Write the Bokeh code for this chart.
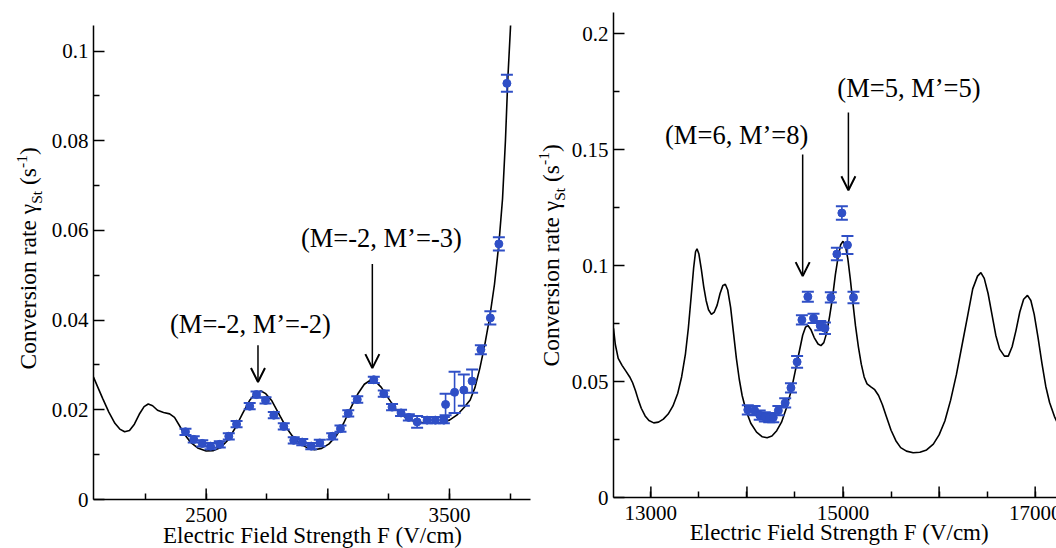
import math
from bokeh.plotting import figure
from bokeh.models import FixedTicker, Label, Arrow, OpenHead, Range1d
from bokeh.layouts import row, column
from bokeh.embed import file_html
from bokeh.resources import INLINE

# ---------------- data: left panel ----------------
left_curve_x = [2037, 2055, 2075, 2100, 2125, 2145, 2165, 2185, 2205, 2225, 2245, 2262, 2280, 2300,
                2325, 2350, 2370, 2390, 2410, 2435, 2465, 2500, 2530, 2560, 2590, 2620, 2650, 2680,
                2705, 2725, 2745, 2770, 2800, 2830, 2860, 2890, 2920, 2945, 2975, 3005, 3035, 3065,
                3095, 3125, 3150, 3175, 3195, 3220, 3250, 3280, 3310, 3340, 3380, 3420, 3460, 3500,
                3530, 3560, 3585, 3605, 3625, 3645, 3665, 3685, 3703, 3718, 3730, 3740, 3750, 3760]
left_curve_y = [0.0273, 0.0250, 0.0225, 0.0195, 0.0170, 0.0157, 0.0151, 0.0154, 0.0168, 0.0190, 0.0207,
                0.0213, 0.0209, 0.0199, 0.0194, 0.0191, 0.0183, 0.0165, 0.0146, 0.0128, 0.0115, 0.0108,
                0.0109, 0.0116, 0.0133, 0.0160, 0.0192, 0.0222, 0.0238, 0.0242, 0.0236, 0.0220, 0.0190,
                0.0160, 0.0137, 0.0123, 0.0114, 0.0111, 0.0114, 0.0124, 0.0142, 0.0170, 0.0205, 0.0237,
                0.0257, 0.0266, 0.0264, 0.0250, 0.0225, 0.0201, 0.0186, 0.0177, 0.0172, 0.0170, 0.0171,
                0.0177, 0.0188, 0.0205, 0.0222, 0.0250, 0.0293, 0.0345, 0.0405, 0.0480, 0.0570, 0.0670,
                0.0800, 0.0940, 0.1045, 0.1160]

left_data_x = [2415, 2449, 2484, 2518, 2556, 2593, 2625, 2679, 2707, 2744, 2778, 2819, 2860, 2895,
               2932, 2967, 3018, 3052, 3084, 3121, 3189, 3230, 3264, 3301, 3333, 3367, 3408, 3442,
               3477, 3484, 3521, 3559, 3593, 3629, 3668, 3703, 3736]
left_data_y = [0.0151, 0.0134, 0.0125, 0.0119, 0.0123, 0.0141, 0.0168, 0.0208, 0.0234, 0.0221, 0.0188,
               0.0163, 0.0132, 0.0128, 0.0119, 0.0126, 0.0141, 0.0158, 0.0192, 0.0223, 0.0267, 0.0236,
               0.0206, 0.0193, 0.0183, 0.0173, 0.0177, 0.0177, 0.0177, 0.0212, 0.0239, 0.0244, 0.0264,
               0.0334, 0.0405, 0.0570, 0.0928]
left_data_err = [0.0007] * 25 + [0.0013, 0.0007, 0.0007, 0.0007, 0.0024, 0.0046, 0.0035, 0.0026,
                                 0.0010, 0.0015, 0.0015, 0.0019]

left_xticks = [2500, 3000, 3500]
left_xminor = [2250, 2500, 2750, 3000, 3250, 3500, 3750]
left_xlabels = {2500: "2500", 3000: "", 3500: "3500"}
left_yticks = [0, 0.02, 0.04, 0.06, 0.08, 0.1]
left_yminor = [0.01, 0.03, 0.05, 0.07, 0.09]
left_ylabels = {0: "0", 0.02: "0.02", 0.04: "0.04", 0.06: "0.06", 0.08: "0.08", 0.1: "0.1"}

# ---------------- data: right panel ----------------
right_curve_x = [12611, 12630, 12660, 12700, 12740, 12780, 12810, 12840, 12870, 12900, 12940, 12980,
                 13030, 13080, 13130, 13180, 13230, 13280, 13320, 13360, 13390, 13420, 13445, 13465,
                 13480, 13500, 13525, 13550, 13575, 13600, 13630, 13660, 13690, 13720, 13750, 13775,
                 13800, 13830, 13860, 13890, 13920, 13950, 13990, 14040, 14100, 14160, 14210, 14260,
                 14310, 14360, 14410, 14460, 14500, 14540, 14580, 14610, 14635, 14665, 14700, 14740,
                 14770, 14800, 14830, 14860, 14890, 14920, 14950, 14975, 15000, 15025, 15050, 15075,
                 15100, 15130, 15160, 15190, 15220, 15250, 15290, 15330, 15370, 15410, 15450, 15500,
                 15550, 15600, 15660, 15730, 15800, 15870, 15940, 16000, 16060, 16120, 16180, 16240,
                 16300, 16350, 16400, 16435, 16470, 16510, 16550, 16590, 16630, 16680, 16720, 16760,
                 16800, 16840, 16880, 16920, 16955, 16990, 17030, 17070, 17110, 17150, 17200, 17240]
right_curve_y = [0.0730, 0.0660, 0.0600, 0.0570, 0.0545, 0.0520, 0.0495, 0.0460, 0.0420, 0.0385, 0.0352,
                 0.0332, 0.0322, 0.0325, 0.0338, 0.0360, 0.0395, 0.0450, 0.0520, 0.0620, 0.0730, 0.0870,
                 0.0990, 0.1060, 0.1073, 0.1050, 0.0985, 0.0910, 0.0850, 0.0810, 0.0790, 0.0800, 0.0830,
                 0.0880, 0.0915, 0.0920, 0.0895, 0.0820, 0.0710, 0.0600, 0.0510, 0.0440, 0.0375, 0.0320,
                 0.0282, 0.0262, 0.0258, 0.0265, 0.0288, 0.0325, 0.0385, 0.0460, 0.0540, 0.0620, 0.0700,
                 0.0735, 0.0742, 0.0725, 0.0690, 0.0662, 0.0655, 0.0668, 0.0710, 0.0780, 0.0860, 0.0960,
                 0.1040, 0.1090, 0.1105, 0.1085, 0.1030, 0.0945, 0.0850, 0.0740, 0.0650, 0.0575, 0.0520,
                 0.0490, 0.0477, 0.0465, 0.0440, 0.0400, 0.0350, 0.0290, 0.0245, 0.0215, 0.0200, 0.0193,
                 0.0195, 0.0205, 0.0230, 0.0270, 0.0330, 0.0420, 0.0530, 0.0660, 0.0790, 0.0900, 0.0955,
                 0.0970, 0.0945, 0.0880, 0.0790, 0.0700, 0.0640, 0.0610, 0.0610, 0.0650, 0.0720, 0.0800,
                 0.0855, 0.0872, 0.0850, 0.0790, 0.0690, 0.0580, 0.0480, 0.0410, 0.0350, 0.0315]

right_data_x = [14009, 14080, 14133, 14186, 14232, 14274, 14327, 14398, 14458, 14522, 14572, 14634,
                14693, 14763, 14812, 14873, 14936, 14988, 15046, 15109]
right_data_y = [0.0378, 0.0375, 0.0355, 0.0348, 0.0345, 0.0345, 0.0375, 0.0408, 0.0473, 0.0585, 0.0766,
                0.0866, 0.0773, 0.0741, 0.0730, 0.0863, 0.1050, 0.1227, 0.1089, 0.0863]
right_data_err = [0.0020, 0.0020, 0.0020, 0.0020, 0.0020, 0.0020, 0.0020, 0.0020, 0.0020, 0.0025, 0.0020,
                  0.0022, 0.0020, 0.0020, 0.0025, 0.0022, 0.0027, 0.0029, 0.0039, 0.0025]

right_xticks = [13000, 14000, 15000, 16000, 17000]
right_xminor = [12500, 13000, 13500, 14000, 14500, 15000, 15500, 16000, 16500, 17000]
right_xlabels = {13000: "13000", 14000: "", 15000: "15000", 16000: "", 17000: "17000"}
right_yticks = [0, 0.05, 0.1, 0.15, 0.2]
right_yminor = [0.025, 0.075, 0.125, 0.175]
right_ylabels = {0: "0", 0.05: "0.05", 0.1: "0.1", 0.15: "0.15", 0.2: "0.2"}

X_TITLE = "Electric Field Strength F (V/cm)"
Y_TITLE_PARTS = ["Conversion rate γ", "St", "(s", "-1", ")"]

FONT = "Liberation Serif"
BLUE = "#2f4fc6"
H = 548


def blank(width, height, xr, yr, bl=0, br=0):
    s = figure(width=width, height=height, x_range=xr, y_range=yr,
               output_backend="svg", toolbar_location=None, tools="",
               x_axis_type=None, y_axis_type=None,
               min_border_left=bl, min_border_right=br, min_border_top=0, min_border_bottom=0)
    s.outline_line_color = None
    s.xgrid.visible = False
    s.ygrid.visible = False
    return s


def base_fig(width, height, xr, yr, borders, xticks, xminor, yticks, yminor, ylabels):
    l, r, t, b = borders
    p = figure(width=width, height=height, x_range=Range1d(*xr), y_range=Range1d(*yr),
               output_backend="svg", toolbar_location=None, tools="",
               min_border_left=l, min_border_right=r, min_border_top=t, min_border_bottom=b)
    p.outline_line_color = None
    p.xgrid.visible = False
    p.ygrid.visible = False
    for ax in (p.xaxis[0], p.yaxis[0]):
        ax.axis_line_color = "black"
        ax.axis_line_width = 1.5
        ax.major_tick_line_color = "black"
        ax.major_tick_line_width = 1.5
        ax.minor_tick_line_color = "black"
        ax.minor_tick_line_width = 1.5
        ax.major_tick_in = 11
        ax.major_tick_out = 0
        ax.minor_tick_in = 6
        ax.minor_tick_out = 0
        ax.major_label_text_font = FONT
        ax.major_label_text_font_size = "21px"
        ax.major_label_text_color = "black"
    p.yaxis.major_label_standoff = 5
    p.yaxis.ticker = FixedTicker(ticks=yticks, minor_ticks=yminor)
    p.yaxis.major_label_overrides = ylabels
    # x axis: only the short ticks here; long ticks drawn as markers, labels in the strip below
    p.xaxis.ticker = FixedTicker(ticks=[], minor_ticks=xminor)
    p.scatter(xticks, [0] * len(xticks), marker="dash", angle=math.pi / 2, size=22,
              line_color="black", line_width=1.5)
    return p


def x_strip(p, width, height, borders, ticks, labels, tick_y, title_x, title_y):
    l, r = borders
    b = blank(width, height, p.x_range, Range1d(0, height), l, r)
    for t in ticks:
        if labels.get(t):
            b.add_layout(Label(x=t, y=tick_y, text=labels[t], text_align="center",
                               text_baseline="middle", text_font=FONT,
                               text_font_size="21px", text_color="black"))
    b.add_layout(Label(x=title_x, y=title_y, text=X_TITLE, text_align="center",
                       text_baseline="middle", text_font=FONT,
                       text_font_size="23px", text_color="black"))
    return b


def y_strip(width, x_base, y_start):
    """Narrow blank figure holding the rotated, composite y-axis title."""
    s = blank(width, H, Range1d(0, width), Range1d(0, H))
    sizes = [23.5, 15.5, 23.5, 15.5, 23.5]
    shifts = [0, 6, 0, -9, 0]            # baseline shift (+ = subscript)
    gaps = [0, 0, 5.9, 0, 0]             # word space before the piece
    advances = [165.7, 12.9, 17.0, 12.9, 7.8]
    acc = 0
    for txt, size, shift, gap, adv in zip(Y_TITLE_PARTS, sizes, shifts, gaps, advances):
        acc += gap
        cx = x_base + shift - 0.34 * size
        cy = y_start + acc + adv / 2
        s.add_layout(Label(x=cx, y=cy, text=txt,
                           angle=math.pi / 2, text_align="center", text_baseline="middle",
                           text_font=FONT, text_font_size=f"{size}px", text_color="black"))
        acc += adv
    return s


def draw(p, cx, cy, dx, dy, de):
    p.line(cx, cy, line_color="black", line_width=1.6)
    lo = [y - e for y, e in zip(dy, de)]
    hi = [y + e for y, e in zip(dy, de)]
    p.segment(x0=dx, y0=lo, x1=dx, y1=hi, line_color=BLUE, line_width=1.6)
    p.scatter(dx, lo, marker="dash", size=12, line_color=BLUE, line_width=2)
    p.scatter(dx, hi, marker="dash", size=12, line_color=BLUE, line_width=2)
    p.scatter(dx, dy, marker="circle", size=8, fill_color=BLUE, line_color=BLUE)


def note(p, x, y, txt):
    p.add_layout(Label(x=x, y=y, text=txt, text_align="center", text_baseline="middle",
                       text_font=FONT, text_font_size="26.5px", text_color="black"))


def arrow(p, x, y0, y1):
    p.add_layout(Arrow(x_start=x, y_start=y0, x_end=x, y_end=y1, line_color="black", line_width=1.5,
                       end=OpenHead(size=14, line_color="black", line_width=2)))


# ---------------- left panel ----------------
s1 = y_strip(45, 35.7, 179)
p1 = base_fig(487, 507, (2037, 3833), (0, 0.1057), (48, 2, 25, 8),
              left_xticks, left_xminor, left_yticks, left_yminor, left_ylabels)
draw(p1, left_curve_x, left_curve_y, left_data_x, left_data_y, left_data_err)
note(p1, 2682, 0.0391, "(M=-2, M’=-2)")
arrow(p1, 2713, 0.0344, 0.0262)
note(p1, 3220, 0.0584, "(M=-2, M’=-3)")
arrow(p1, 3183, 0.0525, 0.0293)
b1 = x_strip(p1, 487, 41, (48, 2), left_xticks, left_xlabels, 34, 2937, 12.8)

# ---------------- right panel ----------------
s2 = y_strip(35, 26, 182)
p2 = base_fig(489, 505, (12611, 17222), (0, 0.2092), (46, 0, 12, 8),
              right_xticks, right_xminor, right_yticks, right_yminor, right_ylabels)
draw(p2, right_curve_x, right_curve_y, right_data_x, right_data_y, right_data_err)
note(p2, 13893, 0.1564, "(M=6, M’=8)")
arrow(p2, 14580, 0.1480, 0.0955)
note(p2, 15686, 0.1768, "(M=5, M’=5)")
arrow(p2, 15056, 0.1661, 0.1325)
b2 = x_strip(p2, 489, 43, (46, 0), right_xticks, right_xlabels, 36, 14960, 15.8)

layout = row(s1, column(p1, b1), s2, column(p2, b2))
open("out.html", "w").write(file_html(layout, INLINE))
